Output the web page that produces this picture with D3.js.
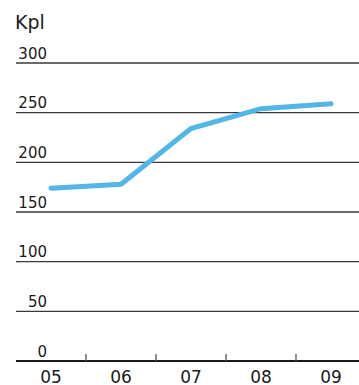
<!DOCTYPE html>
<html><head><meta charset="utf-8">
<script src="https://cdn.jsdelivr.net/npm/d3@7"></script>
<style>
html,body{margin:0;padding:0;background:#fff;}
svg{display:block;}
text{font-family:"DejaVu Sans",sans-serif;fill:#1a1a1a;}
</style></head>
<body>
<svg id="chart" width="359" height="385"></svg>
<script>
const categories = ["05","06","07","08","09"];
const values = [174, 178, 234, 254, 259];
const yTicks = [0, 50, 100, 150, 200, 250, 300];
const unitLabel = "Kpl";

(function () {
const W = 359, H = 385;
const mLeft = 16, mRight = 366, mTop = 63, mBottom = 361;
const svg = d3.select("#chart");

const x = d3.scaleBand().domain(categories).range([mLeft, mRight]);
const y = d3.scaleLinear().domain([0, 300]).range([mBottom, mTop]);

// gridlines
svg.append("g").selectAll("line").data(yTicks.filter(d => d !== 0)).join("line")
  .attr("x1", mLeft).attr("x2", W)
  .attr("y1", d => y(d)).attr("y2", d => y(d))
  .attr("stroke", "#3a3a3a").attr("stroke-width", 1.3);

// y labels
svg.append("g").selectAll("text").data(yTicks).join("text")
  .attr("x", 47).attr("y", d => y(d) - 4.5)
  .attr("text-anchor", "end")
  .attr("font-size", 15)
  .text(d => d);

// baseline
svg.append("line").attr("x1", mLeft).attr("x2", W)
  .attr("y1", y(0)).attr("y2", y(0))
  .attr("stroke", "#1a1a1a").attr("stroke-width", 2);

// ticks between bands
svg.append("g").selectAll("line").data(categories.slice(1)).join("line")
  .attr("x1", d => x(d)).attr("x2", d => x(d))
  .attr("y1", y(0)).attr("y2", y(0) - 7)
  .attr("stroke", "#555").attr("stroke-width", 1.3);

// x labels
svg.append("g").selectAll("text").data(categories).join("text")
  .attr("x", d => x(d) + x.bandwidth() / 2)
  .attr("y", 383)
  .attr("text-anchor", "middle")
  .attr("font-size", 17)
  .text(d => d);

// unit label
svg.append("text").attr("x", 15).attr("y", 29)
  .attr("font-size", 19).text(unitLabel);

// line
const line = d3.line()
  .x((d, i) => x(categories[i]) + x.bandwidth() / 2)
  .y(d => y(d));
svg.append("path").datum(values)
  .attr("d", line)
  .attr("fill", "none")
  .attr("stroke", "#52b6e6")
  .attr("stroke-width", 5)
  .attr("stroke-linecap", "round")
  .attr("stroke-linejoin", "miter");
})();
</script>
</body></html>
